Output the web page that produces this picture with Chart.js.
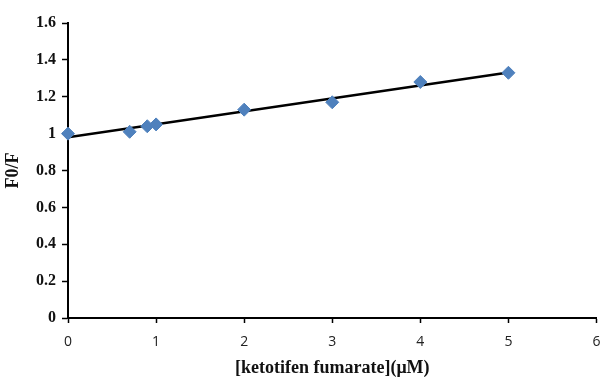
<!DOCTYPE html>
<html><head><meta charset="utf-8">
<script src="https://cdn.jsdelivr.net/npm/chart.js@4/dist/chart.umd.min.js"></script>
<style>html,body{margin:0;padding:0;background:#fff}#wrap{width:604px;height:379px}</style>
</head><body><div id="wrap"><canvas id="c" width="604" height="379"></canvas></div>
<script>
const concentrations = [0, 0.7, 0.9, 1, 2, 3, 4, 5];
const ratioF0F = [1.00, 1.01, 1.04, 1.05, 1.13, 1.17, 1.28, 1.33];
const trendX = [0, 5];
const trendY = [0.98, 1.332];
const xTicks = [0, 1, 2, 3, 4, 5, 6];
const yTicks = [0, 0.2, 0.4, 0.6, 0.8, 1, 1.2, 1.4, 1.6];

const scatterData = concentrations.map((x, i) => ({x: x, y: ratioF0F[i]}));
const trendData = trendX.map((x, i) => ({x: x, y: trendY[i]}));

new Chart(document.getElementById('c'), {
  type: 'scatter',
  data: {
    datasets: [
      {
        label: 'Linear',
        type: 'line',
        data: trendData,
        borderColor: '#000',
        borderWidth: 2.5,
        pointRadius: 0,
        fill: false,
        order: 2
      },
      {
        label: 'F0/F',
        data: scatterData,
        pointStyle: 'rectRot',
        pointRadius: 6.5,
        backgroundColor: '#4F81BD',
        borderColor: '#4F81BD',
        borderWidth: 1,
        clip: false,
        order: 1
      }
    ]
  },
  options: {
    responsive: false,
    animation: false,
    layout: {padding: {top: 23, right: 5, left: 0, bottom: 0}},
    plugins: {legend: {display: false}, tooltip: {enabled: false}},
    scales: {
      x: {
        type: 'linear',
        min: 0, max: 6,
        afterBuildTicks: s => { s.ticks = xTicks.map(v => ({value: v})); },
        afterFit: s => { s.height = 61; s.paddingRight = 0; s.paddingLeft = 0; },
        grid: {display: true, drawOnChartArea: false, drawTicks: true, tickLength: 5, tickColor: '#000', tickWidth: 1.5},
        border: {display: true, color: '#000', width: 2},
        ticks: {color: '#222', font: {family: 'Open Sans', size: 14}, padding: 11, maxRotation: 0},
        title: {display: true, text: '[ketotifen fumarate](μM)', color: '#111', font: {family: 'Liberation Serif', size: 18, weight: 'bold'}, padding: {top: 0, bottom: 0}}
      },
      y: {
        type: 'linear',
        min: 0, max: 1.6,
        afterBuildTicks: s => { s.ticks = yTicks.map(v => ({value: v})); },
        afterFit: s => { s.width = 68; },
        grid: {display: true, drawOnChartArea: false, drawTicks: true, tickLength: 6, tickColor: '#000', tickWidth: 1.5},
        border: {display: true, color: '#000', width: 2},
        ticks: {color: '#111', font: {family: 'Liberation Serif', size: 16, weight: 'bold'}, padding: 6,
          callback: v => String(v)},
        title: {display: true, text: 'F0/F', color: '#111', font: {family: 'Liberation Serif', size: 18, weight: 'bold'}, padding: {top: 3, bottom: 0}}
      }
    }
  }
});
</script></body></html>
